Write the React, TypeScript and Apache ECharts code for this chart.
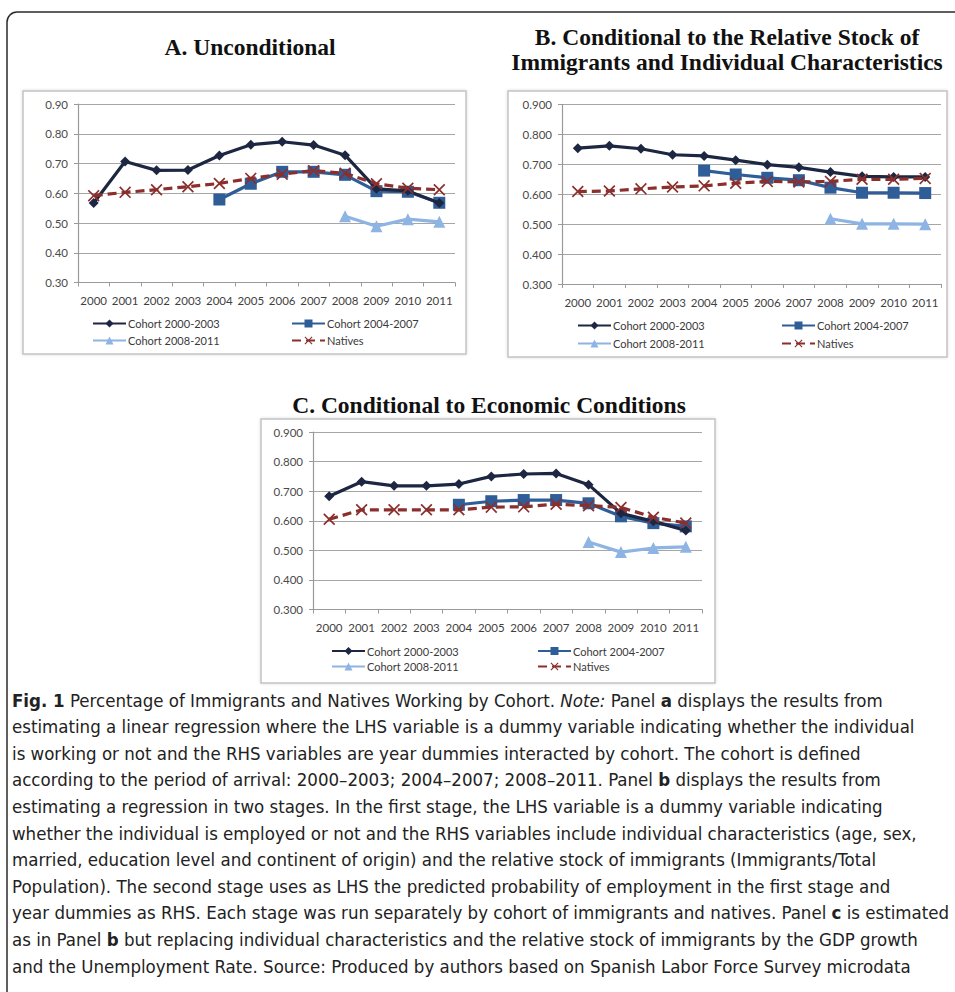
import React, { useEffect, useRef } from "react";
import * as echarts from "echarts";

const YEARS = ["2000", "2001", "2002", "2003", "2004", "2005", "2006", "2007", "2008", "2009", "2010", "2011"];
const Y_TICKS = [0.3, 0.4, 0.5, 0.6, 0.7, 0.8, 0.9];

const A_C1 = [0.567, 0.707, 0.677, 0.678, 0.727, 0.763, 0.773, 0.762, 0.728, 0.615, 0.608, 0.567];
const A_C2 = [null, null, null, null, 0.579, 0.632, 0.672, 0.672, 0.662, 0.607, 0.605, 0.568];
const A_C3 = [null, null, null, null, null, null, null, null, 0.523, 0.489, 0.513, 0.504];
const A_NAT = [0.592, 0.603, 0.612, 0.622, 0.633, 0.650, 0.664, 0.676, 0.667, 0.632, 0.617, 0.612];

const B_C1 = [0.754, 0.762, 0.752, 0.732, 0.728, 0.714, 0.699, 0.690, 0.674, 0.660, 0.658, 0.658];
const B_C2 = [null, null, null, null, 0.679, 0.666, 0.655, 0.647, 0.622, 0.605, 0.605, 0.604];
const B_C3 = [null, null, null, null, null, null, null, null, 0.518, 0.501, 0.501, 0.500];
const B_NAT = [0.609, 0.611, 0.618, 0.624, 0.628, 0.637, 0.643, 0.641, 0.643, 0.650, 0.650, 0.653];

const C_C1 = [0.683, 0.732, 0.718, 0.718, 0.724, 0.750, 0.758, 0.760, 0.722, 0.625, 0.598, 0.567];
const C_C2 = [null, null, null, null, 0.654, 0.666, 0.670, 0.670, 0.659, 0.615, 0.592, 0.581];
const C_C3 = [null, null, null, null, null, null, null, null, 0.528, 0.494, 0.508, 0.512];
const C_NAT = [0.605, 0.637, 0.637, 0.637, 0.637, 0.646, 0.647, 0.656, 0.651, 0.645, 0.612, 0.592];

const NAMES = ["Cohort 2000-2003", "Cohort 2004-2007", "Cohort 2008-2011", "Natives"];

const TITLE_A = "A. Unconditional";
const TITLE_B1 = "B. Conditional to the Relative Stock of";
const TITLE_B2 = "Immigrants and Individual Characteristics";
const TITLE_C = "C. Conditional to Economic Conditions";

const CAPTION = [
  "{b|Fig. 1} Percentage of Immigrants and Natives Working by Cohort. {i|Note:} Panel {b|a} displays the results from",
  "estimating a linear regression where the LHS variable is a dummy variable indicating whether the individual",
  "is working or not and the RHS variables are year dummies interacted by cohort. The cohort is defined",
  "according to the period of arrival: 2000–2003; 2004–2007; 2008–2011. Panel {b|b} displays the results from",
  "estimating a regression in two stages. In the first stage, the LHS variable is a dummy variable indicating",
  "whether the individual is employed or not and the RHS variables include individual characteristics (age, sex,",
  "married, education level and continent of origin) and the relative stock of immigrants (Immigrants/Total",
  "Population). The second stage uses as LHS the predicted probability of employment in the first stage and",
  "year dummies as RHS. Each stage was run separately by cohort of immigrants and natives. Panel {c|c} is estimated",
  "as in Panel {b|b} but replacing individual characteristics and the relative stock of immigrants by the GDP growth",
  "and the Unemployment Rate. Source: Produced by authors based on Spanish Labor Force Survey microdata",
];

const COLORS = ["#1d2742", "#2f5d98", "#8eb4e3", "#8b2f2d"];
const X_PATH = "path://M0,1 L1,0 L5,4 L9,0 L10,1 L6,5 L10,9 L9,10 L5,6 L1,10 L0,9 L4,5 Z";
const SYMBOLS = ["diamond", "rect", "triangle", X_PATH];
const SYMBOL_SIZES = [10, 12, 12, 12];

const AXIS_FONT = "Lato, 'Open Sans', sans-serif";
const CAP_FONT = "'Liberation Sans Narrow', 'DejaVu Sans Condensed', 'Open Sans', sans-serif";

export default function App() {
  const ref = useRef<HTMLDivElement>(null);
  useEffect(() => {
    const chart = echarts.init(ref.current!, null, { renderer: "svg" });

    const grids = [
      { left: 78, top: 104, width: 377, height: 178.5 },
      { left: 562, top: 104.5, width: 379, height: 179.5 },
      { left: 313, top: 432, width: 389, height: 177.5 },
    ];
    const decimals = [2, 3, 3];
    const panelData = [
      [A_C1, A_C2, A_C3, A_NAT],
      [B_C1, B_C2, B_C3, B_NAT],
      [C_C1, C_C2, C_C3, C_NAT],
    ];

    const xAxes = grids.map((_, i) => ({
      type: "category",
      gridIndex: i,
      data: YEARS,
      boundaryGap: true,
      axisLine: { lineStyle: { color: "#9a9a9a", width: 1.2 } },
      axisTick: { show: true, length: 4, lineStyle: { color: "#9a9a9a" } },
      axisLabel: { color: "#3f3f3f", fontSize: 11.5, fontFamily: AXIS_FONT, margin: 12, interval: 0 },
      splitLine: { show: false },
    }));
    const yAxes = grids.map((_, i) => ({
      type: "value",
      gridIndex: i,
      min: Y_TICKS[0],
      max: Y_TICKS[Y_TICKS.length - 1],
      interval: 0.1,
      axisLine: { show: true, lineStyle: { color: "#9a9a9a", width: 1.2 } },
      axisTick: { show: true, length: 4, lineStyle: { color: "#9a9a9a" } },
      axisLabel: {
        color: "#4a4a4a",
        fontSize: 11.5,
        fontFamily: AXIS_FONT,
        margin: 10,
        formatter: (v: number) => v.toFixed(decimals[i]),
      },
      splitLine: { show: true, lineStyle: { color: "#a6a6a6", width: 1.2 } },
    }));

    const series: any[] = [];
    panelData.forEach((arrs, gi) => {
      arrs.forEach((d, si) => {
        series.push({
          type: "line",
          name: NAMES[si],
          xAxisIndex: gi,
          yAxisIndex: gi,
          data: d,
          symbol: SYMBOLS[si],
          symbolSize: SYMBOL_SIZES[si],
          showSymbol: true,
          connectNulls: false,
          z: si === 3 ? 3 : 2 + (2 - si) * 0.1,
          lineStyle: { color: COLORS[si], width: 3.2, type: si === 3 ? [9, 5] : "solid" },
          itemStyle: { color: COLORS[si] },
        });
      });
    });

    const legendPos = [
      { x1: 92, x2: 291, y1: 325, y2: 342 },
      { x1: 577, x2: 781, y1: 327, y2: 345 },
      { x1: 331, x2: 537, y1: 652.5, y2: 668 },
    ];
    const legends: any[] = [];
    legendPos.forEach((p) => {
      const spots = [
        [p.x1, p.y1],
        [p.x2, p.y1],
        [p.x1, p.y2],
        [p.x2, p.y2],
      ];
      spots.forEach((s, k) => {
        legends.push({
          data: [NAMES[k]],
          left: s[0],
          top: s[1] - 7,
          padding: 0,
          itemWidth: 33,
          itemHeight: 10,
          itemGap: 2,
          selectedMode: false,
          textStyle: { fontSize: 11, color: "#3a3a3a", fontFamily: AXIS_FONT, padding: [0, 0, 0, -3] },
        });
      });
    });

    const titleStyle = {
      font: "bold 23.5px 'Liberation Serif', 'DejaVu Serif', serif",
      fill: "#111",
      textAlign: "center",
      textVerticalAlign: "middle",
    };

    const capStyleBase = { fontSize: 18.5, fontFamily: CAP_FONT, color: "#222" };
    const graphics: any[] = [
      {
        type: "rect",
        shape: { x: 7, y: 12, width: 1000, height: 1050, r: 10 },
        style: { fill: "#fff", stroke: "#2b2b2b", lineWidth: 1.5 },
        z: -10,
      },
      {
        type: "rect",
        shape: { x: 23, y: 91, width: 443, height: 263 },
        style: { fill: "#fff", stroke: "#c4c4c4", lineWidth: 1.5, shadowBlur: 3, shadowColor: "rgba(0,0,0,0.15)" },
        z: -5,
      },
      {
        type: "rect",
        shape: { x: 508, y: 91, width: 439, height: 266 },
        style: { fill: "#fff", stroke: "#c4c4c4", lineWidth: 1.5, shadowBlur: 3, shadowColor: "rgba(0,0,0,0.15)" },
        z: -5,
      },
      {
        type: "rect",
        shape: { x: 261, y: 419, width: 454, height: 264 },
        style: { fill: "#fff", stroke: "#c4c4c4", lineWidth: 1.5, shadowBlur: 3, shadowColor: "rgba(0,0,0,0.15)" },
        z: -5,
      },
      { type: "text", x: 250, y: 47, style: { ...titleStyle, text: TITLE_A } },
      { type: "text", x: 727, y: 37, style: { ...titleStyle, text: TITLE_B1 } },
      { type: "text", x: 727, y: 62, style: { ...titleStyle, text: TITLE_B2 } },
      { type: "text", x: 489, y: 405, style: { ...titleStyle, text: TITLE_C } },
    ];
    CAPTION.forEach((line, i) => {
      graphics.push({
        type: "text",
        x: 12,
        y: 700 + i * 26.6,
        style: {
          text: line,
          ...capStyleBase,
          fill: "#222",
          textVerticalAlign: "middle",
          rich: {
            b: { ...capStyleBase, fontWeight: "bold" },
            c: { ...capStyleBase, fontWeight: "bold" },
            i: { ...capStyleBase, fontStyle: "italic" },
          },
        },
      });
    });

    chart.setOption({
      animation: false,
      backgroundColor: "#fff",
      grid: grids,
      xAxis: xAxes,
      yAxis: yAxes,
      legend: legends,
      series,
      graphic: graphics,
    });
    return () => chart.dispose();
  }, []);
  return (
    <div
      ref={ref}
      style={{ position: "fixed", left: 0, top: 0, width: 955, height: 992 }}
    />
  );
}
